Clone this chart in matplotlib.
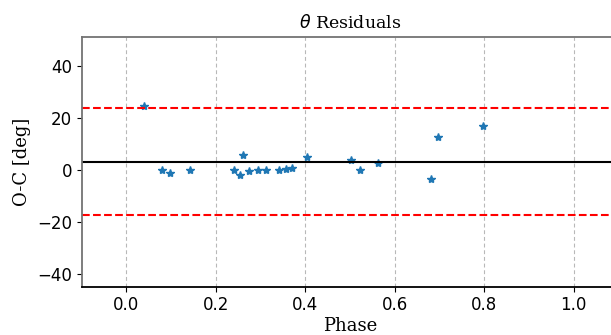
import numpy as np
import matplotlib
matplotlib.use('Agg')
import matplotlib.pyplot as plt

# phase and O-C residuals
phase = [0.039, 0.080, 0.097, 0.143, 0.240, 0.253, 0.260, 0.275, 0.293, 0.313,
         0.340, 0.356, 0.370, 0.404, 0.502, 0.523, 0.563, 0.680, 0.697, 0.798]
resid = [24.6, -0.1, -1.0, -0.1, -0.1, -2.0, 5.9, -0.3, -0.1, -0.1,
         0.0, 0.3, 0.8, 4.9, 4.1, -0.1, 2.6, -3.5, 12.7, 16.9]
xticks = [0.0, 0.2, 0.4, 0.6, 0.8, 1.0]
yticks = [-40, -20, 0, 20, 40]

mean = np.mean(resid)
sig = np.std(resid)

fig = plt.figure(figsize=(6.11, 3.35), dpi=100)
ax = fig.add_axes([0.1337, 0.1442, 0.8786, 0.7462])

ax.plot(phase, resid, '*', color='tab:blue', markersize=6)
ax.axhline(mean, color='k', lw=1.5)
ax.axhline(mean + 3 * sig, color='red', ls='--', lw=1.5)
ax.axhline(mean - 3 * sig, color='red', ls='--', lw=1.5)

ax.set_xlim(-0.1, 1.1)
ax.set_ylim(mean - 7 * sig, mean + 7 * sig)
ax.set_xticks(xticks)
ax.set_yticks(yticks)
ax.xaxis.grid(True, ls=(0, (3.5, 2.5)), color='0.72', lw=0.8)
ax.tick_params(labelsize=12)

for s in ['top', 'left', 'right']:
    ax.spines[s].set_color('0.45')
    ax.spines[s].set_linewidth(1.3)
ax.spines['bottom'].set_linewidth(1.3)

ax.set_title(r'$\theta$ Residuals', family='DejaVu Serif', fontsize=12.5)
ax.set_xlabel('Phase', family='DejaVu Serif', fontsize=13, labelpad=2)
ax.set_ylabel('O-C [deg]', family='DejaVu Serif', fontsize=13)

fig.savefig('out.png', dpi=100)
